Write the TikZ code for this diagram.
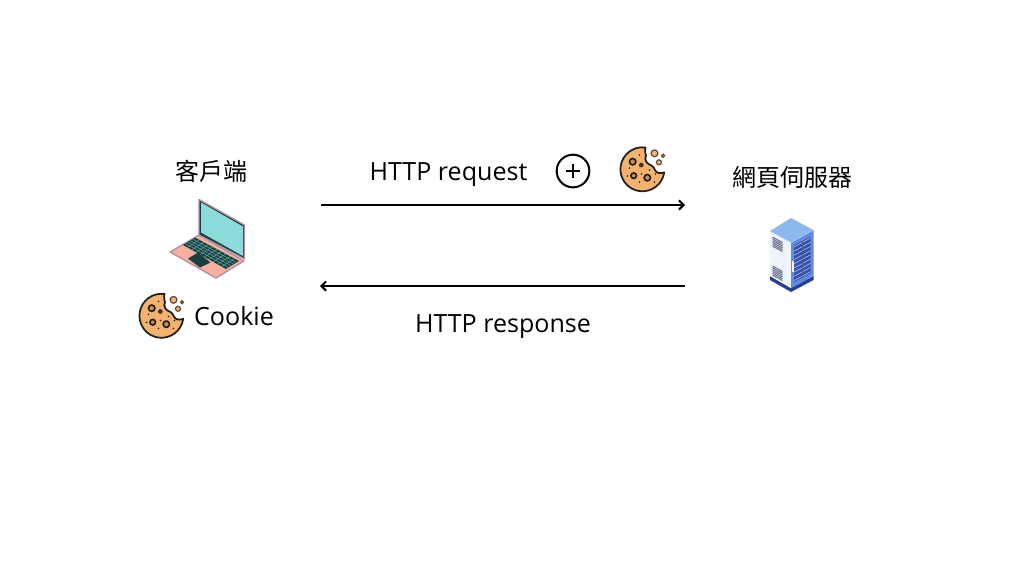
\documentclass[tikz,border=0pt]{standalone}
\usepackage{fontspec}
\setmainfont{Open Sans}
\newfontfamily\cjkfont{Noto Sans CJK TC}
\usepackage{xcolor}
\usetikzlibrary{positioning, arrows.meta, calc}
\definecolor{cookiefill}{HTML}{F4B26F}
\definecolor{cookiechip}{HTML}{C98F58}
\definecolor{cookieline}{HTML}{1E1E1E}
\definecolor{lapscreen}{HTML}{8ADBD9}
\definecolor{lapdark}{HTML}{17403F}
\definecolor{lapbase}{HTML}{F7AFA0}
\definecolor{lapedge}{HTML}{B48FA0}
\definecolor{srvtop}{HTML}{8DB8EE}
\definecolor{srvside}{HTML}{EEF4FC}
\definecolor{srvdoor}{HTML}{5F8BE0}
\definecolor{srvdark}{HTML}{2A3C96}
\definecolor{srvvent}{HTML}{6F7690}

\tikzset{
  cookie/.pic={
    \draw[cookieline, fill=cookiefill, line width=1.3pt, line join=round]
      (3,-21.5) arc[start angle=-82, end angle=-352, radius=22]
      .. controls (17,5) and (14,4) .. (12.5,1)
      .. controls (11,-3) and (8,-4) .. (6,-5)
      .. controls (3,-7) and (2,-11) .. (3.5,-13)
      .. controls (3,-15) and (2,-18) .. cycle;
    % crumbs
    \foreach \cx/\cy/\cr in {12/-15.7/3.4, 16.5/-6.7/2.5, 20.5/-13.3/1.6}
      \draw[cookieline!70!cookiefill, line width=0.9pt, fill=cookiefill] (\cx,\cy) circle[radius=\cr];
    % chips
    \foreach \cx/\cy/\cr in {-9.8/-7.3/3.2, -8.8/6.7/2.8, 4.8/8.7/3.2}
      \draw[cookieline, line width=1.2pt, fill=cookiechip] (\cx,\cy) circle[radius=\cr];
    \fill[cookieline!80!cookiechip] (-1.2,-4) circle[radius=2.4];
    \foreach \cx/\cy in {-3/-14, -13/-1, 7/1, -3/13, 12/13, -15/7, 3/-10, -1/5, 13/5}
      \fill[cookieline] (\cx,\cy) circle[radius=0.8];
  },
  laptop/.pic={
    % base
    \draw[lapedge, fill=lapbase, line width=1pt, line join=round]
      (170,252) -- (199,235) -- (244,261) -- (216,278) -- cycle;
    \fill[lapdark] (183,245) -- (195,237.5) -- (239,261) -- (226,269) -- cycle;
    \foreach \k in {0.2,0.4,0.6,0.8}
      \draw[lapscreen!70!lapdark, line width=0.35pt]
        ($(183,245)!\k!(195,237.5)$) -- ($(226,269)!\k!(239,261)$);
    \foreach \k in {0.1,0.2,...,0.9}
      \draw[lapscreen!70!lapdark, line width=0.35pt]
        ($(183,245)!\k!(226,269)$) -- ($(195,237.5)!\k!(239,261)$);
    \fill[lapdark] (188,258.5) -- (198,252.5) -- (210.5,262.5) -- (200,267.5) -- cycle;
    % screen
    \draw[lapedge, fill=lapdark, line width=1pt, line join=round]
      (199,199.5) -- (244.5,225) -- (244.5,259) -- (199,235) -- cycle;
    \fill[lapscreen] (201,202.5) -- (243,226.5) -- (243,256) -- (201,232.5) -- cycle;
  },
  server/.pic={
    % plinth
    \fill[srvdark] (770,276) -- (791,288) -- (813.5,276) -- (813.5,280) -- (791,292) -- (770,280) -- cycle;
    % panels
    \fill[srvside] (770,231) -- (791,242.5) -- (791,288) -- (770,276) -- cycle;
    \fill[srvdoor] (791,242.5) -- (813.5,230) -- (813.5,276) -- (791,288) -- cycle;
    \fill[srvtop] (770,231) -- (791,218) -- (813.5,230) -- (791,242.5) -- cycle;
    \draw[srvside!60!srvdoor, line width=0.4pt] (770,231) -- (791,242.5) -- (813.5,230);
    % vents
    \foreach \r in {0,...,5}
      \draw[srvvent, line width=0.8pt] (772.5,{237+\r*1.8}) -- (782.5,{242.5+\r*1.8});
    \foreach \r in {0,...,5}
      \draw[srvvent, line width=0.8pt] (772.5,{266+\r*1.8}) -- (782.5,{271.5+\r*1.8});
    % racks in the door
    \fill[srvdark!75!srvdoor] (794,245.5) -- (810.5,236.5) -- (810.5,273) -- (794,282) -- cycle;
    \foreach \r in {0,...,8}
      \draw[srvdoor!60!white, line width=0.5pt] (794,{247+\r*4.2}) -- (810.5,{238+\r*4.2});
    \draw[srvdoor!70!black, line width=0.6pt] (802,241.5) -- (802,278);
    \draw[srvside, line width=0.9pt] (793,261) -- (793,272);
  },
  label/.style={font=\fontsize{18.8}{22}\selectfont, text=black, inner sep=0pt, anchor=base},
  cjk/.style={font=\cjkfont\fontsize{18}{22}\selectfont, text=black, inner sep=0pt},
  flow/.style={-{Straight Barb[length=3.5pt, width=7pt]}, line width=1.5pt, black},
}

\begin{document}
\begin{tikzpicture}[x=0.75pt, y=-0.75pt]
\useasboundingbox (0,0) rectangle (1024,576);

% Client side
\node[cjk] (client) at (211,171) {客戶端};
\pic (pc) at (0,0) {laptop};
\pic (ckclient) at (161.5,315.5) {cookie};
\node[label] (cklabel) at (234,325) {Cookie};

% Server side
\node[cjk] (web) at (792,177) {網頁伺服器};
\pic (srv) at (0,0) {server};

% Request label with the cookie added
\node[label] (req) at (448.5,180) {HTTP request};
\node[draw, circle, line width=1.5pt, minimum size=24.5pt, inner sep=0pt] (plus) at (573,171) {};
\draw[line width=1.5pt] (573,164) -- (573,178) (566,171) -- (580,171);
\pic (ckreq) at (642.5,169) {cookie};

% Response label
\node[label] (resp) at (503,332) {HTTP response};

% Arrows between both sides
\coordinate (reqa) at (321,205);
\coordinate (reqb) at (685,205);
\coordinate (respa) at (685,286);
\coordinate (respb) at (320,286);
\draw[flow] (reqa) -- (reqb);
\draw[flow] (respa) -- (respb);
\end{tikzpicture}
\end{document}
